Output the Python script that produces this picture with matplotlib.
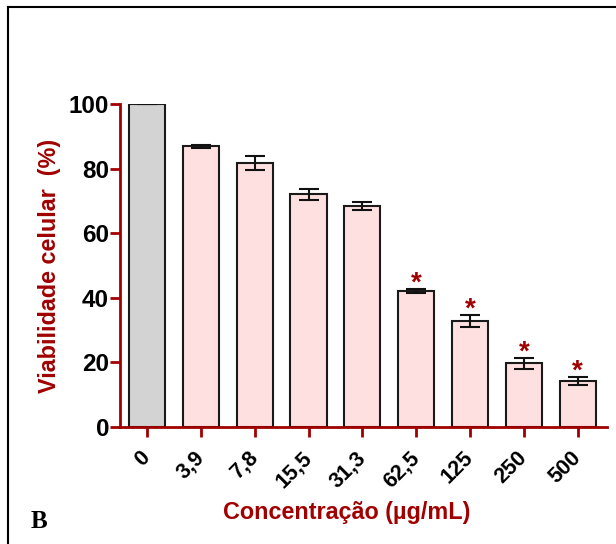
"""Cell viability bar chart (panel B)."""

import matplotlib

matplotlib.use("Agg")
import matplotlib.pyplot as plt
import matplotlib.transforms as mtransforms
from matplotlib.lines import Line2D

plt.rcParams["font.family"] = ["Liberation Sans", "DejaVu Sans"]
plt.rcParams["font.weight"] = "bold"

DARK_RED = "#a00000"

concentrations = ["0", "3,9", "7,8", "15,5", "31,3", "62,5", "125", "250", "500"]
viability = [100.0, 86.9, 81.7, 72.1, 68.4, 42.1, 32.8, 19.7, 14.2]
errors = [0.0, 0.5, 2.2, 1.7, 1.3, 0.6, 1.8, 1.7, 1.2]
significant = [False, False, False, False, False, True, True, True, True]
bar_colors = ["#d3d3d3"] + ["#ffe0e0"] * 8

fig = plt.figure(figsize=(6.16, 5.44), dpi=100)
ax = fig.add_axes([0.195, 0.215, 0.790, 0.594])

x = list(range(len(concentrations)))
ax.bar(x, viability, width=0.67, color=bar_colors, edgecolor="#1a1a1a", linewidth=1.5, zorder=2)
ax.errorbar(
    x, viability, yerr=errors, fmt="none", ecolor="#111111",
    elinewidth=1.5, capsize=7, capthick=1.5, zorder=3,
)
for xi, v, e, sig in zip(x, viability, errors, significant):
    if sig:
        ax.annotate(
            "*", xy=(xi, v + e), xytext=(0, 4), textcoords="offset points",
            ha="center", va="center", color=DARK_RED, fontsize=20, fontweight="bold",
        )

ax.set_xlim(-0.5, 8.54)
ax.set_ylim(0, 100)
ax.set_yticks([0, 20, 40, 60, 80, 100])
ax.set_xticks(x)
ax.set_xticklabels(concentrations, rotation=45, ha="right", va="center", rotation_mode="anchor")
# nudge rotated labels a little to the right, as in the original figure
shift = mtransforms.ScaledTranslation(4 / 100, 0, fig.dpi_scale_trans)
for lbl in ax.get_xticklabels():
    lbl.set_transform(lbl.get_transform() + shift)

for side in ("top", "right"):
    ax.spines[side].set_visible(False)
for side in ("left", "bottom"):
    ax.spines[side].set_color(DARK_RED)
    ax.spines[side].set_linewidth(2)
ax.tick_params(axis="both", colors=DARK_RED, width=2, length=7, labelcolor="black")
ax.tick_params(axis="y", pad=1, labelsize=17.5)
ax.tick_params(axis="x", pad=13, labelsize=15.5)

ax.set_ylabel("Viabilidade celular  (%)", color=DARK_RED, fontsize=16.8, fontweight="bold", labelpad=5.5)
fig.text(0.562, 0.058, "Concentração (µg/mL)", color=DARK_RED, fontsize=16.8,
         fontweight="bold", ha="center", va="center")

fig.text(0.049, 0.041, "B", family=["Liberation Serif", "DejaVu Serif"], fontsize=18,
         fontweight="bold", ha="left", va="center")

# frame around the panel (only left and top edges are visible in the crop)
fig.add_artist(Line2D([0.013, 0.013], [0, 0.987], color="black", linewidth=1.5, transform=fig.transFigure))
fig.add_artist(Line2D([0.013, 1.0], [0.987, 0.987], color="black", linewidth=1.5, transform=fig.transFigure))

fig.savefig("out.png", dpi=100)
